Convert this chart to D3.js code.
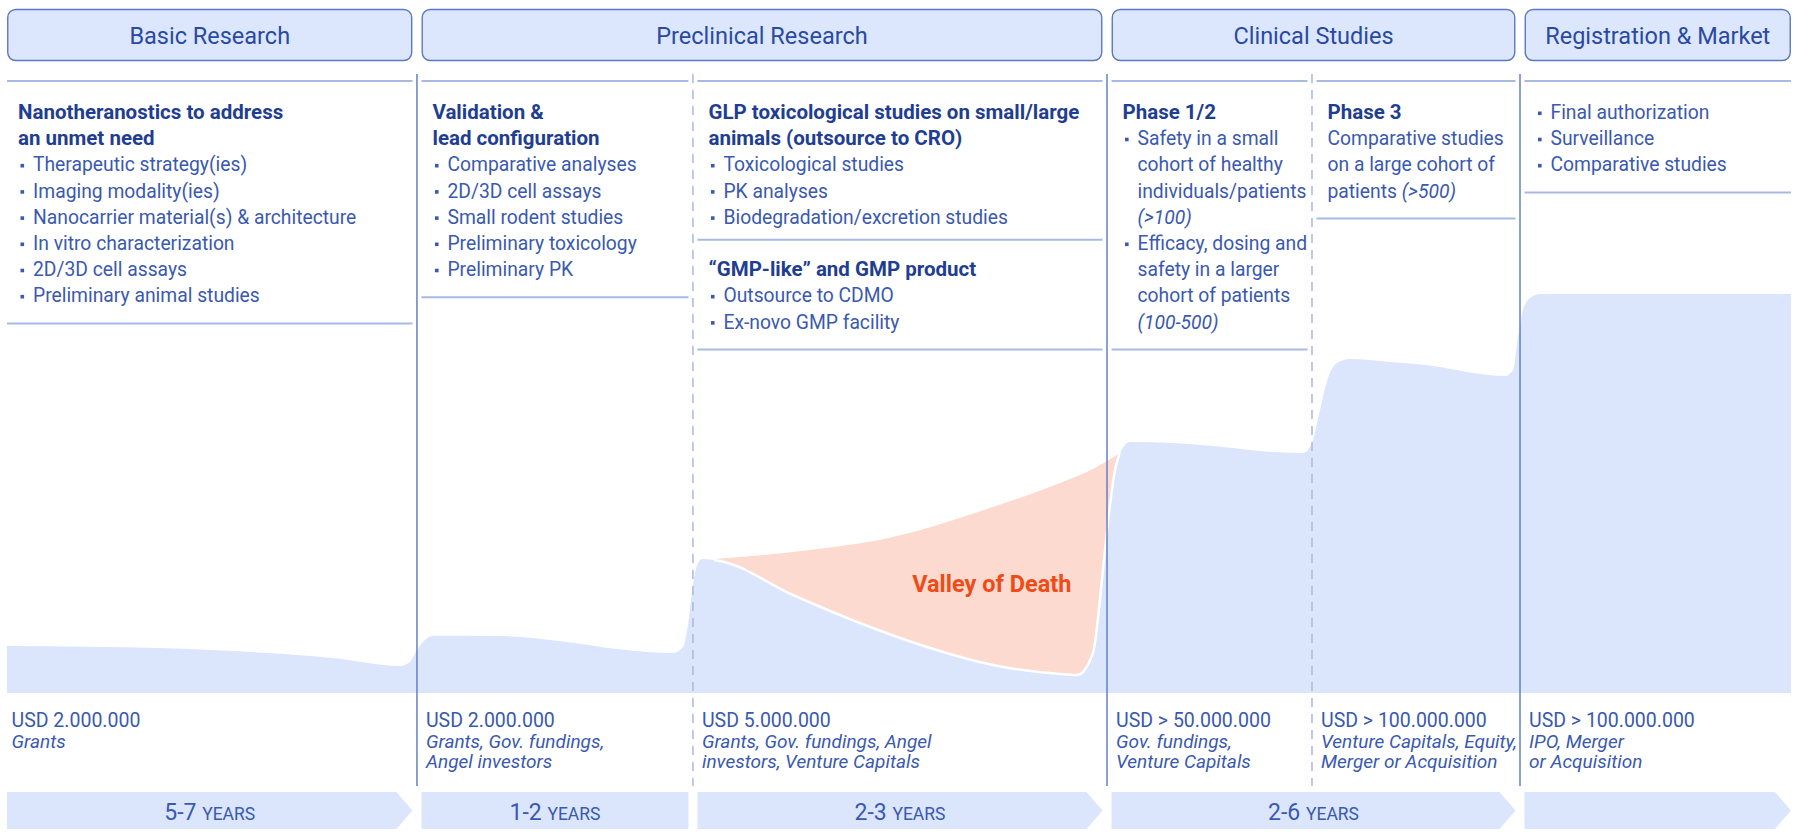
<!DOCTYPE html>
<html><head><meta charset="utf-8">
<script src="https://cdn.jsdelivr.net/npm/d3@7"></script>
<style>
body{margin:0;background:#fff;}
svg{display:block;font-family:Roboto,"Liberation Sans",sans-serif;}
</style>
</head><body>
<svg id="chart" width="1800" height="834"></svg>
<script>
// ---------------- DATA ----------------
const stageNames = ["Basic Research", "Preclinical Research", "Clinical Studies", "Registration & Market"];
const stageCols = [[0, 0], [1, 2], [3, 4], [5, 5]];
// column breaks, in % of the pipeline
const colBreaks = [22.98, 38.45, 61.66, 73.15, 84.81];
const breakSolid = [true, false, true, false, true];

// funding-need profile (pipeline % -> relative funding level 0-100)
const fundingX = [0, 8.97, 14.57, 18.27, 22.03, 22.59, 22.98, 23.71, 23.88, 27.63, 31.39, 34.19, 37.33, 37.89, 38.17, 38.45, 38.68, 38.96,
  39.97, 44.06, 47.81, 51.57, 55.27, 59.02, 59.98, 60.87, 61.43, 61.72, 62.11, 62.39, 62.95,
  65.36, 68.16, 70.96, 72.65, 73.15, 73.6, 73.99, 74.55, 75.28, 77.52, 80.33, 82.17, 83.97, 84.42, 84.7, 84.98, 85.37, 85.93, 100];
const fundingLevel = [11.75, 11.2, 10, 8.75, 6.75, 7.8, 10.75, 14.1, 14.3, 14.25, 12.75, 11, 10, 11.5, 17, 27, 32, 33.5,
  33, 24.5, 17.5, 11.5, 7, 4.75, 4.5, 10, 30.75, 43, 55.75, 60, 62.75,
  62.5, 61.5, 60.25, 60, 62.5, 70.75, 78, 82.5, 83.5, 82.75, 81.5, 80, 79.25, 80.75, 89, 95.75, 98.75, 99.75, 99.75];

// valley of death upper edge
const valleyX = [39.69, 44.06, 49.66, 55.27, 59.02, 60.87, 62.39];
const valleyLevel = [33.5, 35.25, 39, 46.5, 52.5, 56, 60];
const valleyLabel = "Valley of Death";

const budgets = ["USD 2.000.000", "USD 2.000.000", "USD 5.000.000", "USD > 50.000.000", "USD > 100.000.000", "USD > 100.000.000"];
const sources = [
  ["Grants"],
  ["Grants, Gov. fundings,", "Angel investors"],
  ["Grants, Gov. fundings, Angel", "investors, Venture Capitals"],
  ["Gov. fundings,", "Venture Capitals"],
  ["Venture Capitals, Equity,", "Merger or Acquisition"],
  ["IPO, Merger", "or Acquisition"]
];

const durations = ["5-7", "1-2", "2-3", "2-6", ""];
const durationUnit = "YEARS";
const durationCols = [[0, 0], [1, 1], [2, 2], [3, 4], [5, 5]];
const durationPointed = [true, false, true, true, true];

// h = bold heading, b = bullet, c = bullet continuation, p = plain; 3rd item = italic tail
const colBlocks = [
  [[["h", "Nanotheranostics to address"], ["h", "an unmet need"], ["b", "Therapeutic strategy(ies)"], ["b", "Imaging modality(ies)"],
    ["b", "Nanocarrier material(s) & architecture"], ["b", "In vitro characterization"], ["b", "2D/3D cell assays"], ["b", "Preliminary animal studies"]]],
  [[["h", "Validation &"], ["h", "lead configuration"], ["b", "Comparative analyses"], ["b", "2D/3D cell assays"],
    ["b", "Small rodent studies"], ["b", "Preliminary toxicology"], ["b", "Preliminary PK"]]],
  [[["h", "GLP toxicological studies on small/large"], ["h", "animals (outsource to CRO)"], ["b", "Toxicological studies"],
    ["b", "PK analyses"], ["b", "Biodegradation/excretion studies"]],
   [["h", "\u201CGMP-like\u201D and GMP product"], ["b", "Outsource to CDMO"], ["b", "Ex-novo GMP facility"]]],
  [[["h", "Phase 1/2"], ["b", "Safety in a small"], ["c", "cohort of healthy"], ["c", "individuals/patients"], ["c", "", "(>100)"],
    ["b", "Efficacy, dosing and"], ["c", "safety in a larger"], ["c", "cohort of patients"], ["c", "", "(100-500)"]]],
  [[["h", "Phase 3"], ["p", "Comparative studies"], ["p", "on a large cohort of"], ["p", "patients ", "(>500)"]]],
  [[["b", "Final authorization"], ["b", "Surveillance"], ["b", "Comparative studies"]]]
];

// ---------------- STYLE ----------------
const C = {
  area: "#dbe6fd", head: "#dce7fd", headStroke: "#5b79c2", salmon: "#fcdacf", valley: "#f04b17",
  vline: "#6580c4", dline: "#a9b8e0", hline: "#a9b9e5", title: "#2a4aa2", bold: "#1f3e92", body: "#3a59b0"
};

const svg = d3.select("#chart");
const x = d3.scaleLinear().domain([0, 100]).range([7, 1791]);
const y = d3.scaleLinear().domain([0, 100]).range([693, 293]);

const edges = [x(0), ...colBreaks.map(x), x(100)];
const nCols = edges.length - 1;
const colLeft = i => i === 0 ? edges[0] : edges[i] + 4.5;
const colRight = i => i === nCols - 1 ? edges[nCols] : edges[i + 1] - 4.5;

// ---------------- AREAS ----------------
const funding = fundingX.map((v, i) => ({ x: v, v: fundingLevel[i] }));
const valley = valleyX.map((v, i) => ({ x: v, v: valleyLevel[i] }));

svg.append("path").datum(valley)
  .attr("fill", C.salmon)
  .attr("d", d3.area().x(d => x(d.x)).y0(y(0)).y1(d => y(d.v)).curve(d3.curveMonotoneX));

svg.append("path").datum(funding)
  .attr("fill", C.area)
  .attr("d", d3.area().x(d => x(d.x)).y0(y(0)).y1(d => y(d.v)).curve(d3.curveMonotoneX));

svg.append("clipPath").attr("id", "vclip").append("rect")
  .attr("x", x(valleyX[0]) - 1).attr("y", 0)
  .attr("width", x(valleyX[valleyX.length - 1]) - x(valleyX[0]) + 1.5).attr("height", 834);

svg.append("path").datum(funding)
  .attr("fill", "none").attr("stroke", "#fff").attr("stroke-width", 2.5)
  .attr("clip-path", "url(#vclip)")
  .attr("d", d3.line().x(d => x(d.x)).y(d => y(d.v)).curve(d3.curveMonotoneX));

svg.append("text")
  .attr("x", x(55.2)).attr("y", y(25.25))
  .attr("text-anchor", "middle").attr("fill", C.valley)
  .attr("font-size", 23.5).attr("font-weight", 700)
  .text(valleyLabel);

// ---------------- HEADERS ----------------
stageNames.forEach((name, i) => {
  const l = colLeft(stageCols[i][0]), r = colRight(stageCols[i][1]);
  svg.append("rect").attr("x", l + 0.75).attr("y", 9.5).attr("width", r - l - 1.5).attr("height", 51)
    .attr("rx", 8).attr("fill", C.head).attr("stroke", C.headStroke).attr("stroke-width", 1.4);
  svg.append("text").attr("x", (l + r) / 2).attr("y", 43.5).attr("text-anchor", "middle")
    .attr("font-size", 23.5).attr("fill", C.title).text(name);
});

// ---------------- VERTICAL LINES ----------------
colBreaks.forEach((b, i) => {
  svg.append("line").attr("x1", x(b)).attr("x2", x(b)).attr("y1", 74).attr("y2", 786)
    .attr("stroke", breakSolid[i] ? C.vline : C.dline).attr("stroke-width", 1.5)
    .attr("stroke-dasharray", breakSolid[i] ? null : "9,7");
});

// ---------------- COLUMN TEXT BLOCKS ----------------
const step = 26.2, firstBase = 119;
function hline(i, yy) {
  svg.append("line").attr("x1", colLeft(i)).attr("x2", colRight(i)).attr("y1", yy).attr("y2", yy)
    .attr("stroke", C.hline).attr("stroke-width", 2);
}
colBlocks.forEach((blocks, ci) => {
  const l = colLeft(ci);
  hline(ci, 81);
  let idx = 0;
  blocks.forEach((lines, bi) => {
    lines.forEach(ln => {
      const [k, txt, ital] = ln;
      const by = firstBase + idx * step;
      let tx = l + 11;
      if (k === "b" || k === "c") tx = l + 26;
      if (k === "b") {
        svg.append("rect").attr("x", l + 13.5).attr("y", by - 7.5).attr("width", 3.6).attr("height", 3.6).attr("fill", C.body);
      }
      const t = svg.append("text").attr("x", tx).attr("y", by)
        .attr("font-size", k === "h" ? 20.5 : 19.3)
        .attr("fill", k === "h" ? C.bold : C.body).attr("font-weight", k === "h" ? 700 : 400);
      if (txt) t.append("tspan").text(txt);
      if (ital) t.append("tspan").attr("font-style", "italic").text(ital);
      idx++;
    });
    const lastBase = firstBase + (idx - 1) * step;
    if (bi < blocks.length - 1) { hline(ci, lastBase + 16); idx++; }
    else hline(ci, lastBase + 21);
  });
});

// ---------------- BUDGET TEXT ----------------
budgets.forEach((b, ci) => {
  const l = colLeft(ci) + 4.5;
  svg.append("text").attr("x", l).attr("y", 727).attr("font-size", 19.5).attr("fill", C.body).text(b);
  sources[ci].forEach((s, j) => {
    svg.append("text").attr("x", l).attr("y", 747.5 + j * 20.5).attr("font-size", 19)
      .attr("font-style", "italic").attr("fill", C.body).text(s);
  });
});

// ---------------- DURATION ARROWS ----------------
durations.forEach((d, i) => {
  const l = colLeft(durationCols[i][0]), r = colRight(durationCols[i][1]);
  const y0 = 792, y1 = 829, tip = 16;
  const pts = durationPointed[i]
    ? [[l, y0], [r - tip, y0], [r, (y0 + y1) / 2], [r - tip, y1], [l, y1]]
    : [[l, y0], [r, y0], [r, y1], [l, y1]];
  svg.append("path").attr("d", d3.line()(pts) + "Z").attr("fill", C.area);
  if (d) {
    const t = svg.append("text").attr("x", (l + r) / 2).attr("y", 819.5).attr("text-anchor", "middle").attr("fill", C.body);
    t.append("tspan").attr("font-size", 23).text(d + " ");
    t.append("tspan").attr("font-size", 17.5).text(durationUnit);
  }
});
</script>
</body></html>
